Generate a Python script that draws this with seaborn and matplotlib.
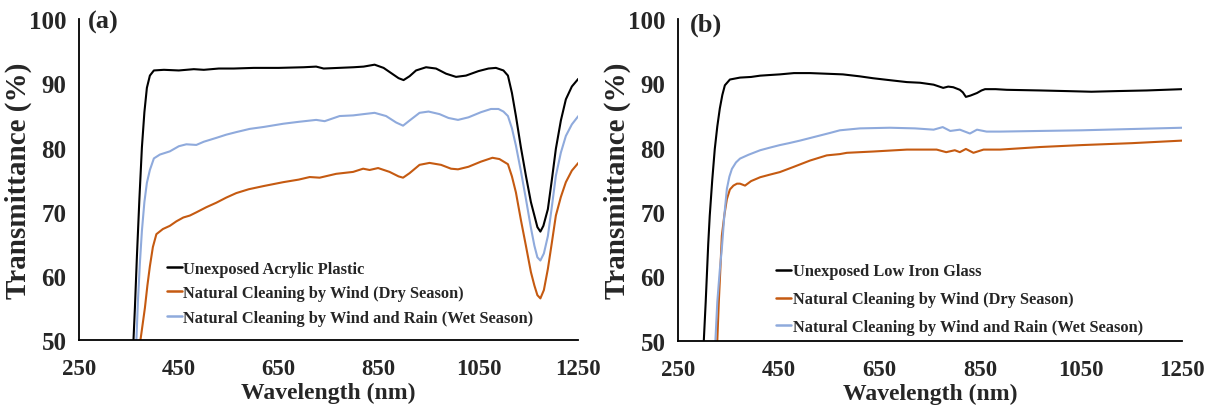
import matplotlib
matplotlib.use("Agg")
import matplotlib.pyplot as plt
import numpy as np
import pandas as pd
import seaborn as sns

# ---------------- (a) acrylic plastic ----------------
a_black_wl = [358, 362, 366, 371, 376, 381, 386, 392, 400, 420, 450, 480, 500, 530, 560, 600,
              650, 700, 725, 740, 770, 800, 820, 842, 860, 875, 890, 900, 912, 925, 945, 965,
              985, 1005, 1025, 1050, 1070, 1085, 1100, 1109, 1117, 1125, 1135, 1145, 1155,
              1162, 1168, 1174, 1180, 1189, 1197, 1205, 1215, 1225, 1237, 1250]
a_black_tr = [48.0, 55.0, 63.0, 72.0, 80.0, 85.5, 89.3, 91.2, 92.0, 92.1, 92.0, 92.2, 92.1, 92.3,
              92.3, 92.4, 92.4, 92.5, 92.6, 92.3, 92.4, 92.5, 92.6, 92.9, 92.4, 91.6, 90.8, 90.5,
              91.1, 92.0, 92.5, 92.3, 91.5, 91.0, 91.2, 91.9, 92.3, 92.4, 92.0, 91.2, 88.5, 84.9,
              80.0, 75.6, 71.5, 69.4, 67.6, 66.9, 67.8, 70.4, 75.0, 79.8, 84.2, 87.5, 89.5, 90.7]

a_dry_wl = [369, 374, 382, 387, 392, 398, 405, 418, 432, 445, 459, 472, 485, 505, 525, 545, 565,
            590, 620, 659, 690, 712, 732, 765, 799, 819, 832, 849, 872, 890, 899, 912, 932, 952,
            975, 995, 1009, 1030, 1055, 1078, 1092, 1109, 1117, 1125, 1135, 1145, 1155, 1162,
            1168, 1174, 1181, 1189, 1197, 1205, 1215, 1225, 1237, 1250]
a_dry_tr = [48.0, 50.5, 55.0, 58.5, 61.5, 64.5, 66.5, 67.3, 67.8, 68.5, 69.1, 69.4, 69.9, 70.7,
            71.4, 72.2, 72.9, 73.5, 74.0, 74.6, 75.0, 75.4, 75.3, 75.9, 76.2, 76.7, 76.5, 76.8,
            76.2, 75.5, 75.3, 76.0, 77.3, 77.6, 77.3, 76.7, 76.6, 77.0, 77.8, 78.4, 78.2, 77.4,
            75.5, 73.0, 68.7, 64.7, 60.6, 58.5, 57.0, 56.5, 57.8, 61.1, 65.2, 69.4, 72.3, 74.6,
            76.4, 77.6]

a_wet_wl = [364, 368, 372, 376, 381, 386, 392, 400, 412, 432, 450, 465, 485, 500, 525, 545, 565,
            592, 620, 659, 690, 725, 742, 772, 799, 820, 842, 865, 885, 899, 912, 932, 950, 972,
            990, 1009, 1030, 1055, 1075, 1090, 1100, 1109, 1117, 1125, 1135, 1145, 1155, 1162,
            1168, 1174, 1181, 1189, 1197, 1205, 1215, 1225, 1237, 1250]
a_wet_tr = [48.0, 56.0, 62.0, 67.0, 71.5, 74.5, 76.5, 78.3, 78.9, 79.4, 80.2, 80.5, 80.4, 80.9,
            81.5, 82.0, 82.4, 82.9, 83.2, 83.7, 84.0, 84.3, 84.1, 84.9, 85.0, 85.2, 85.4, 84.9,
            83.9, 83.4, 84.2, 85.4, 85.6, 85.2, 84.6, 84.3, 84.7, 85.5, 86.0, 86.0, 85.6, 84.9,
            83.0, 80.3, 76.3, 72.0, 67.5, 64.7, 62.9, 62.4, 63.5, 66.2, 70.8, 75.6, 79.2, 81.8,
            83.6, 84.9]

# ---------------- (b) low iron glass ----------------
b_black_wl = [300, 305, 310, 313, 318, 323, 328, 333, 338, 343, 353, 373, 395, 413, 432, 452,
              480, 512, 545, 577, 610, 637, 670, 704, 730, 757, 776, 786, 796, 809, 815, 821,
              830, 843, 852, 859, 880, 902, 968, 1021, 1070, 1120, 1180, 1250]
b_black_tr = [48.0, 56.0, 65.0, 69.4, 75.0, 79.8, 83.3, 86.1, 88.2, 89.7, 90.6, 90.9, 91.0, 91.2,
              91.3, 91.4, 91.6, 91.6, 91.5, 91.4, 91.1, 90.8, 90.5, 90.2, 90.1, 89.8, 89.3, 89.5,
              89.4, 89.0, 88.6, 87.9, 88.1, 88.5, 88.9, 89.1, 89.1, 89.0, 88.9, 88.8, 88.7, 88.8,
              88.9, 89.1]

b_dry_wl = [327, 331, 334, 337, 342, 347, 353, 360, 367, 373, 383, 395, 413, 432, 452, 479, 512,
            545, 571, 585, 611, 637, 704, 763, 782, 799, 809, 821, 836, 856, 889, 968, 1050,
            1150, 1250]
b_dry_tr = [48.0, 56.0, 61.0, 66.3, 69.5, 72.0, 73.5, 74.1, 74.4, 74.4, 74.1, 74.8, 75.4, 75.8,
            76.2, 77.0, 78.0, 78.8, 79.0, 79.2, 79.3, 79.4, 79.7, 79.7, 79.3, 79.6, 79.3, 79.8,
            79.2, 79.7, 79.7, 80.1, 80.4, 80.7, 81.1]

b_wet_wl = [323, 328, 333, 337, 342, 347, 352, 357, 365, 373, 390, 413, 432, 452, 470, 492, 512,
            532, 552, 571, 611, 670, 720, 757, 775, 790, 809, 829, 843, 862, 889, 968, 1050,
            1150, 1250]
b_wet_tr = [48.0, 56.0, 61.0, 64.3, 69.5, 73.6, 75.5, 76.7, 77.7, 78.3, 78.9, 79.6, 80.0, 80.4,
            80.7, 81.1, 81.5, 81.9, 82.3, 82.7, 83.0, 83.1, 83.0, 82.8, 83.2, 82.6, 82.8, 82.2,
            82.8, 82.5, 82.5, 82.6, 82.7, 82.9, 83.1]

a_labels = ["Unexposed Acrylic Plastic",
            "Natural Cleaning by Wind (Dry Season)",
            "Natural Cleaning by Wind and Rain (Wet Season)"]
b_labels = ["Unexposed Low Iron Glass",
            "Natural Cleaning by Wind (Dry Season)",
            "Natural Cleaning by Wind and Rain (Wet Season)"]
line_colors = ["#000000", "#C55A11", "#8FAADC"]

x_ticks = [250, 450, 650, 850, 1050, 1250]
y_ticks = [50, 60, 70, 80, 90, 100]

sns.set_theme(style="white")
plt.rcParams["font.family"] = ["Liberation Serif", "DejaVu Serif"]
plt.rcParams["font.weight"] = "bold"


def panel(ax, curves, labels, tag, tag_xy, leg_anchor, leg_spacing):
    frames = []
    for (wl, tr), lab in zip(curves, labels):
        frames.append(pd.DataFrame({"Wavelength": wl, "Transmittance": tr, "Sample": lab}))
    df = pd.concat(frames, ignore_index=True)
    sns.lineplot(data=df, x="Wavelength", y="Transmittance", hue="Sample",
                 hue_order=labels, palette=line_colors, estimator=None, sort=False,
                 linewidth=1.5, ax=ax)
    ax.set_xlim(250, 1250)
    ax.set_ylim(50, 100)
    ax.set_xticks(x_ticks)
    ax.set_yticks(y_ticks)
    ax.tick_params(axis="both", length=0)
    ax.tick_params(axis="x", labelsize=16.5, pad=13)
    ax.tick_params(axis="y", labelsize=18, pad=9)
    for lbl in ax.get_xticklabels() + ax.get_yticklabels():
        lbl.set_fontweight("bold")
    for side in ("top", "right"):
        ax.spines[side].set_visible(False)
    for side in ("left", "bottom"):
        ax.spines[side].set_color("black")
        ax.spines[side].set_linewidth(1.3)
    ax.set_xlabel("Wavelength (nm)", fontsize=17, fontweight="bold")
    ax.set_ylabel("Transmittance (%)", fontsize=21, fontweight="bold")
    ax.xaxis.set_label_coords(0.5, -0.13)
    ax.yaxis.set_label_coords(-0.094, 0.5)
    ax.text(tag_xy[0], tag_xy[1], tag, transform=ax.transAxes, fontsize=19,
            fontweight="bold", ha="left", va="center")
    handles, labs = ax.get_legend_handles_labels()
    leg = ax.legend(handles, labs, loc="lower left", bbox_to_anchor=leg_anchor,
                    frameon=False, handlelength=0.9, handletextpad=0.1,
                    borderpad=0, borderaxespad=0, labelspacing=leg_spacing,
                    prop={"weight": "bold", "size": 11.8})
    for h in leg.get_lines():
        h.set_linewidth(1.8)


fig = plt.figure(figsize=(12.15, 4.10), dpi=100)
ax_a = fig.add_axes([0.065, 0.168, 0.411, 0.783])
ax_b = fig.add_axes([0.558, 0.167, 0.415, 0.784])

panel(ax_a, [(a_black_wl, a_black_tr), (a_dry_wl, a_dry_tr), (a_wet_wl, a_wet_tr)],
      a_labels, "(a)", (0.018, 0.994), (0.176, 0.045), 0.52)
panel(ax_b, [(b_black_wl, b_black_tr), (b_dry_wl, b_dry_tr), (b_wet_wl, b_wet_tr)],
      b_labels, "(b)", (0.024, 0.985), (0.195, 0.017), 0.72)

fig.savefig("out.png", dpi=100, facecolor="white")
